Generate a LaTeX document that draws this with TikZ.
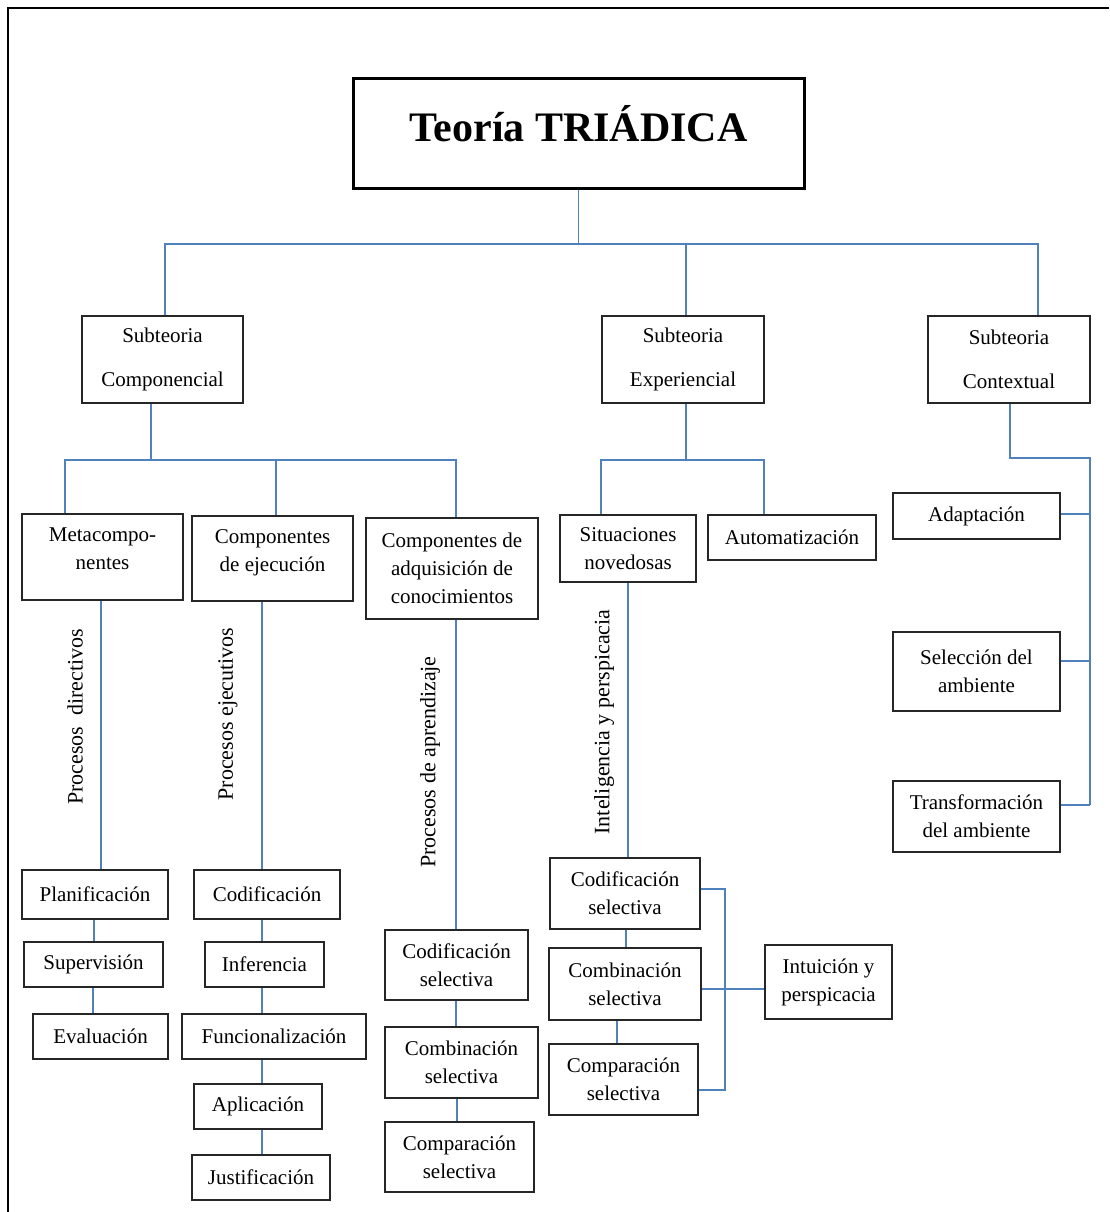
\documentclass[tikz,border=0pt]{standalone}
\usepackage{fontspec}
\setmainfont{Liberation Serif}
\definecolor{linkblue}{RGB}{79,129,189}
\begin{document}
\begin{tikzpicture}[x=1pt,y=-1pt,
  box/.style={draw=black!85, line width=1.2pt, inner sep=0pt, align=center,
              font=\fontsize{21}{28}\selectfont},
  subbox/.style={box, font=\fontsize{21}{44}\selectfont},
  conn/.style={draw=linkblue, line width=1.1pt},
  lab/.style={inner sep=0pt, rotate=90, font=\fontsize{22}{26}\selectfont}]
\useasboundingbox (0,0) rectangle (1109,1212);
% outer frame
\draw[line width=2.5pt] (8,1212) -- (8,8) -- (1109,8);

% title
\node[draw=black, line width=3pt, inner sep=0pt, minimum width=451, minimum height=109,
      text height=34pt, text depth=17pt, font=\bfseries\fontsize{42}{50}\selectfont]
      (title) at (578.5,133.5) {Teoría TRIÁDICA};

% subtheories
\node[subbox, minimum width=161, minimum height=87] (sc) at (162.5,359.5) {Subteoria\\Componencial};
\node[subbox, minimum width=162, minimum height=87] (se) at (683,359.5) {Subteoria\\Experiencial};
\node[subbox, minimum width=162, minimum height=87] (sx) at (1009,359.5) {Subteoria\\Contextual};

% componential branch
\node[box, minimum width=161, minimum height=86, text depth=17pt] (meta) at (102.5,557) {Metacompo-\\nentes};
\node[box, minimum width=161, minimum height=85, text depth=15pt] (cej) at (272.5,558.5) {Componentes\\de ejecución};
\node[box, minimum width=172, minimum height=101] (cadq) at (452,568.5) {Componentes de\\adquisición de\\conocimientos};

\node[box, minimum width=146, minimum height=49] (plan) at (95,894.5) {Planificación};
\node[box, minimum width=139, minimum height=45] (sup) at (93.5,964.5) {Supervisión};
\node[box, minimum width=135, minimum height=45] (eval) at (100.5,1036.5) {Evaluación};

\node[box, minimum width=146, minimum height=49] (cod) at (267,894.5) {Codificación};
\node[box, minimum width=119, minimum height=45] (inf) at (264.5,964.5) {Inferencia};
\node[box, minimum width=184, minimum height=45] (func) at (274,1036.5) {Funcionalización};
\node[box, minimum width=128, minimum height=45] (apl) at (258,1106.5) {Aplicación};
\node[box, minimum width=138, minimum height=45] (just) at (261,1177.5) {Justificación};

\node[box, minimum width=143, minimum height=70] (cs1) at (456.5,965) {Codificación\\selectiva};
\node[box, minimum width=153, minimum height=71] (cb1) at (461.5,1062.5) {Combinación\\selectiva};
\node[box, minimum width=149, minimum height=70] (cp1) at (459.5,1157) {Comparación\\selectiva};

% experiential branch
\node[box, minimum width=136, minimum height=67] (sit) at (628,548.5) {Situaciones\\novedosas};
\node[box, minimum width=168, minimum height=45] (auto) at (792,537.5) {Automatización};
\node[box, minimum width=150, minimum height=71] (cs2) at (625,893.5) {Codificación\\selectiva};
\node[box, minimum width=152, minimum height=72] (cb2) at (625,984) {Combinación\\selectiva};
\node[box, minimum width=149, minimum height=71] (cp2) at (623.5,1079.5) {Comparación\\selectiva};
\node[box, minimum width=127, minimum height=74] (intu) at (828.5,982) {Intuición y\\perspicacia};

% contextual branch
\node[box, minimum width=167, minimum height=46] (adap) at (976.5,516) {Adaptación};
\node[box, minimum width=167, minimum height=79] (selamb) at (976.5,671.5) {Selección del\\ambiente};
\node[box, minimum width=167, minimum height=71] (trans) at (976.5,816.5) {Transformación\\del ambiente};

% rotated labels along the vertical links
\node[lab] (lpd) at (75,717) {Procesos\hspace{11pt}directivos};
\node[lab] (lpe) at (228,714) {Procesos ejecutivos};
\node[lab] (lpa) at (430,762) {Procesos de aprendizaje};
\node[lab] (lip) at (604,722) {Inteligencia y perspicacia};

% rows and columns of the connector grid
\coordinate (r1) at (0,244);
\coordinate (r2) at (0,460);
\coordinate (r3) at (0,458);
\coordinate (k1) at (165,0);
\coordinate (k2) at (686,0);
\coordinate (k3) at (1038,0);
\coordinate (kc) at (151,0);
\coordinate (km) at (65,0);
\coordinate (ke) at (276,0);
\coordinate (ka) at (456,0);
\coordinate (ks) at (601,0);
\coordinate (kt) at (764,0);
\coordinate (kx) at (1010,0);
\coordinate (rail) at (1090,0);
\coordinate (cA) at (101,0);
\coordinate (cB) at (94,0);
\coordinate (cC) at (93,0);
\coordinate (cD) at (262,0);
\coordinate (cE) at (456,0);
\coordinate (cF) at (457,0);
\coordinate (cG) at (628,0);
\coordinate (cH) at (626,0);
\coordinate (cI) at (617,0);
\coordinate (brk) at (725,0);
\coordinate (ya) at (0,514);
\coordinate (ys) at (0,661);
\coordinate (yt) at (0,805);
\coordinate (y1) at (0,889);
\coordinate (y2) at (0,989);
\coordinate (y3) at (0,1090);

% top level
\draw[conn] (title.south) -- (title.south |- r1);
\draw[conn] (sc.north -| k1) -- (k1 |- r1) -- (k3 |- r1) -- (sx.north -| k3);
\draw[conn] (se.north -| k2) -- (k2 |- r1);

% componential
\draw[conn] (sc.south -| kc) -- (kc |- r2);
\draw[conn] (meta.north -| km) -- (km |- r2) -- (ka |- r2) -- (cadq.north -| ka);
\draw[conn] (cej.north -| ke) -- (ke |- r2);
\draw[conn] (meta.south -| cA) -- (plan.north -| cA);
\draw[conn] (plan.south -| cB) -- (sup.north -| cB);
\draw[conn] (sup.south -| cC) -- (eval.north -| cC);
\draw[conn] (cej.south -| cD) -- (cod.north -| cD);
\draw[conn] (cod.south -| cD) -- (inf.north -| cD);
\draw[conn] (inf.south -| cD) -- (func.north -| cD);
\draw[conn] (func.south -| cD) -- (apl.north -| cD);
\draw[conn] (apl.south -| cD) -- (just.north -| cD);
\draw[conn] (cadq.south -| cE) -- (cs1.north -| cE);
\draw[conn] (cs1.south -| cE) -- (cb1.north -| cE);
\draw[conn] (cb1.south -| cF) -- (cp1.north -| cF);

% experiential
\draw[conn] (se.south -| k2) -- (k2 |- r2);
\draw[conn] (sit.north -| ks) -- (ks |- r2) -- (kt |- r2) -- (auto.north -| kt);
\draw[conn] (sit.south -| cG) -- (cs2.north -| cG);
\draw[conn] (cs2.south -| cH) -- (cb2.north -| cH);
\draw[conn] (cb2.south -| cI) -- (cp2.north -| cI);
\draw[conn] (cs2.east |- y1) -- (brk |- y1) -- (brk |- y3) -- (cp2.east |- y3);
\draw[conn] (cb2.east |- y2) -- (intu.west |- y2);

% contextual
\draw[conn] (sx.south -| kx) -- (kx |- r3) -- (rail |- r3) -- (rail |- yt);
\draw[conn] (adap.east |- ya) -- (rail |- ya);
\draw[conn] (selamb.east |- ys) -- (rail |- ys);
\draw[conn] (trans.east |- yt) -- (rail |- yt);
\end{tikzpicture}
\end{document}
